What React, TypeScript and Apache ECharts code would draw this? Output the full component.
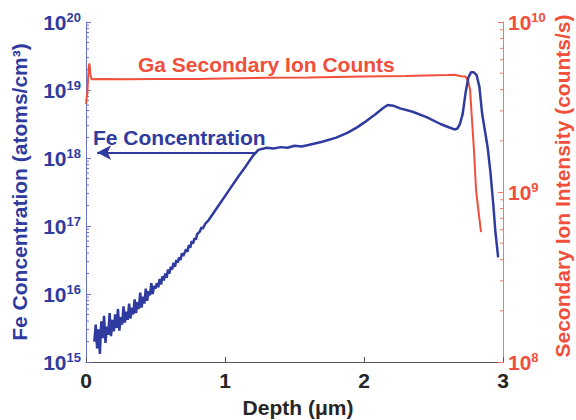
import React, { useEffect, useRef } from "react";
import * as echarts from "echarts";

// Fe concentration profile: depth (µm) and log10(atoms/cm^3)
const FE_DEPTH = [
  0.06, 0.07, 0.08, 0.09, 0.10, 0.11, 0.12, 0.13, 0.14, 0.15,
  0.16, 0.17, 0.18, 0.19, 0.20, 0.21, 0.22, 0.23, 0.24, 0.25,
  0.26, 0.27, 0.28, 0.29, 0.30, 0.31, 0.32, 0.33, 0.34, 0.35,
  0.36, 0.37, 0.38, 0.39, 0.40, 0.41, 0.42, 0.43, 0.44, 0.45,
  0.46, 0.47, 0.48, 0.49, 0.50, 0.51, 0.52, 0.53, 0.54, 0.55,
  0.56, 0.57, 0.58, 0.59, 0.60, 0.61, 0.62, 0.63, 0.64, 0.65,
  0.66, 0.67, 0.68, 0.69, 0.70, 0.72, 0.73, 0.74, 0.75, 0.76,
  0.77, 0.78, 0.79, 0.80, 0.82, 0.83, 0.84, 0.86, 0.88, 0.90,
  0.95, 1.00, 1.05, 1.10, 1.15, 1.20, 1.24, 1.30, 1.35, 1.40,
  1.45, 1.50, 1.55, 1.60, 1.70, 1.80, 1.88, 1.95, 2.00, 2.08,
  2.14, 2.17, 2.21, 2.26, 2.35, 2.45, 2.55, 2.60, 2.65, 2.67,
  2.69, 2.71, 2.73, 2.75, 2.77, 2.79, 2.81, 2.83, 2.85, 2.87,
  2.89, 2.91, 2.93, 2.945, 2.965,
];
const FE_LOG10 = [
  15.30, 15.55, 15.20, 15.48, 15.12, 15.60, 15.35, 15.68, 15.28, 15.52,
  15.40, 15.72, 15.38, 15.62, 15.45, 15.70, 15.50, 15.78, 15.46, 15.66,
  15.55, 15.82, 15.58, 15.74, 15.62, 15.86, 15.64, 15.80, 15.70, 15.92,
  15.72, 15.88, 15.78, 16.02, 15.80, 15.96, 15.86, 16.08, 15.90, 16.04,
  15.98, 16.16, 16.00, 16.12, 16.08, 16.16, 16.10, 16.22, 16.14, 16.26,
  16.20, 16.30, 16.24, 16.36, 16.30, 16.40, 16.36, 16.46, 16.40, 16.50,
  16.46, 16.54, 16.50, 16.60, 16.56, 16.66, 16.62, 16.72, 16.68, 16.78,
  16.74, 16.82, 16.80, 16.88, 16.92, 16.98, 16.96, 17.04, 17.08, 17.14,
  17.29, 17.44, 17.59, 17.74, 17.88, 18.03, 18.12, 18.15, 18.14, 18.16,
  18.15, 18.18, 18.17, 18.19, 18.24, 18.30, 18.37, 18.45, 18.52, 18.64,
  18.74, 18.78, 18.77, 18.73, 18.68, 18.60, 18.50, 18.46, 18.42, 18.43,
  18.50, 18.65, 18.95, 19.18, 19.26, 19.26, 19.22, 19.05, 18.65, 18.40,
  18.15, 17.78, 17.32, 16.92, 16.54,
];

// Ga secondary ion counts: depth (µm) and counts/s
const GA_DEPTH = [
  0, 0.01, 0.02, 0.025, 0.032, 0.04, 0.1, 0.3, 0.5, 0.8, 1.0, 1.3, 1.6,
  2.0, 2.3, 2.6, 2.65, 2.7, 2.73, 2.75, 2.763, 2.777, 2.791, 2.806, 2.827, 2.842,
];
const GA_COUNTS = [
  3.3e9, 3.9e9, 5.5e9, 5.7e9, 4.9e9, 4.6e9, 4.62e9, 4.6e9, 4.62e9, 4.62e9, 4.65e9, 4.7e9, 4.72e9,
  4.78e9, 4.82e9, 4.88e9, 4.9e9, 4.8e9, 4.78e9, 4.5e9, 4.0e9, 2.65e9, 1.77e9, 1.03e9, 7.3e8, 5.8e8,
];

// Axis ranges / ticks
const X_TICKS = [0, 1, 2, 3];
const LEFT_DECADES = [15, 16, 17, 18, 19];
const RIGHT_DECADES = [8, 9];
const MINOR_MULTS = [2, 3, 4, 5, 6, 7, 8, 9];

// Annotation arrows (data space)
const FE_ARROW = { from: [1.22, 1.2e18], to: [0.08, 1.2e18] };
const GA_ARROW = { from: [2.8, 1.72e9], to: [3.06, 1.72e9] };

const BLUE = "#2f3b9f";
const BLUE_AXIS = "#6a72d0";
const RED = "#f04f3b";
const RED_AXIS = "#f07a6a";
const DARK = "#262626";
const FONT = "'Liberation Sans', Arial, Helvetica, sans-serif";

export default function App() {
  const ref = useRef<HTMLDivElement>(null);

  useEffect(() => {
    if (!ref.current) return;
    const chart = echarts.init(ref.current, null, { renderer: "svg" });

    const feData = FE_DEPTH.map((d, i) => [d, Math.pow(10, FE_LOG10[i])]);
    const gaData = GA_DEPTH.map((d, i) => [d, GA_COUNTS[i]]);
    const leftMinor: number[][] = [];
    LEFT_DECADES.forEach((e) => MINOR_MULTS.forEach((m) => leftMinor.push([0, m * Math.pow(10, e)])));
    const rightMinor: number[][] = [];
    RIGHT_DECADES.forEach((e) => MINOR_MULTS.forEach((m) => rightMinor.push([3, m * Math.pow(10, e)])));

    const supFmt = (v: number) => `{b|10}{s|${Math.round(Math.log10(v))}}`;
    const rich = (color: string) => ({
      b: { fontSize: 21, fontWeight: "bold", color, fontFamily: FONT, lineHeight: 22 },
      s: { fontSize: 13, fontWeight: "bold", color, fontFamily: FONT, verticalAlign: "top", lineHeight: 13 },
    });

    const option: any = {
      animation: false,
      textStyle: { fontFamily: FONT },
      grid: { left: 86, right: 73, top: 22, bottom: 58 },
      xAxis: {
        type: "value",
        min: X_TICKS[0],
        max: X_TICKS[X_TICKS.length - 1],
        interval: 1,
        axisLine: { show: true, lineStyle: { color: "#555", width: 1.2 } },
        axisTick: { show: true, inside: true, length: 5, lineStyle: { color: "#555" } },
        axisLabel: { fontSize: 21, fontWeight: "bold", color: DARK, margin: 8, fontFamily: FONT },
        splitLine: { show: false },
      },
      yAxis: [
        {
          type: "log",
          logBase: 10,
          min: 1e15,
          max: 1e20,
          position: "left",
          axisLine: { show: true, lineStyle: { color: BLUE_AXIS, width: 1 } },
          axisTick: { show: true, inside: true, length: 5, lineStyle: { color: BLUE_AXIS } },
          axisLabel: { formatter: supFmt, rich: rich(BLUE), margin: 5 },
          splitLine: { show: false },
        },
        {
          type: "log",
          logBase: 10,
          min: 1e8,
          max: 1e10,
          position: "right",
          axisLine: { show: true, lineStyle: { color: RED_AXIS, width: 1 } },
          axisTick: { show: true, inside: true, length: 5, lineStyle: { color: RED_AXIS } },
          axisLabel: { formatter: supFmt, rich: rich(RED), margin: 5 },
          splitLine: { show: false },
        },
      ],
      series: [
        {
          type: "line",
          name: "Ga",
          yAxisIndex: 1,
          data: gaData,
          showSymbol: false,
          symbol: "none",
          clip: false,
          lineStyle: { color: RED, width: 2 },
          silent: true,
          markLine: {
            silent: true,
            symbol: ["none", "arrow"],
            symbolSize: [11, 14],
            label: { show: false },
            lineStyle: { color: RED, width: 2, type: "solid" },
            data: [[{ coord: GA_ARROW.from }, { coord: GA_ARROW.to }]],
          },
        },
        {
          type: "line",
          name: "Fe",
          yAxisIndex: 0,
          data: feData,
          showSymbol: false,
          symbol: "none",
          lineStyle: { color: BLUE, width: 2.5 },
          silent: true,
          markLine: {
            silent: true,
            symbol: ["none", "arrow"],
            symbolSize: [11, 14],
            label: { show: false },
            lineStyle: { color: BLUE, width: 2, type: "solid" },
            data: [[{ coord: FE_ARROW.from }, { coord: FE_ARROW.to }]],
          },
        },
        {
          type: "custom",
          yAxisIndex: 0,
          silent: true,
          clip: false,
          data: leftMinor,
          renderItem: (_p: any, api: any) => {
            const pt = api.coord([api.value(0), api.value(1)]);
            return {
              type: "line",
              shape: { x1: pt[0], y1: pt[1], x2: pt[0] + 3, y2: pt[1] },
              style: { stroke: BLUE_AXIS, lineWidth: 1 },
            };
          },
        },
        {
          type: "custom",
          yAxisIndex: 1,
          silent: true,
          clip: false,
          data: rightMinor,
          renderItem: (_p: any, api: any) => {
            const pt = api.coord([api.value(0), api.value(1)]);
            return {
              type: "line",
              shape: { x1: pt[0], y1: pt[1], x2: pt[0] - 3, y2: pt[1] },
              style: { stroke: RED_AXIS, lineWidth: 1 },
            };
          },
        },
      ],
      graphic: [
        {
          type: "text",
          left: 138,
          top: 54,
          style: { text: "Ga Secondary Ion Counts", fill: RED, fontSize: 21, fontWeight: "bold", fontFamily: FONT },
        },
        {
          type: "text",
          left: 93,
          top: 127,
          style: { text: "Fe Concentration", fill: BLUE, fontSize: 21, fontWeight: "bold", fontFamily: FONT },
        },
        {
          type: "text",
          x: 19,
          y: 192,
          rotation: Math.PI / 2,
          style: {
            text: "Fe Concentration (atoms/cm\u00B3)",
            fill: BLUE,
            fontSize: 21,
            fontWeight: "bold",
            fontFamily: FONT,
            align: "center",
            verticalAlign: "middle",
          },
        },
        {
          type: "text",
          x: 562,
          y: 186,
          rotation: Math.PI / 2,
          style: {
            text: "Secondary Ion Intensity (counts/s)",
            fill: RED,
            fontSize: 21,
            fontWeight: "bold",
            fontFamily: FONT,
            align: "center",
            verticalAlign: "middle",
          },
        },
        {
          type: "text",
          x: 298,
          y: 407,
          style: {
            text: "Depth (\u03BCm)",
            fill: DARK,
            fontSize: 21,
            fontWeight: "bold",
            fontFamily: FONT,
            align: "center",
            verticalAlign: "middle",
          },
        },
      ],
    };

    chart.setOption(option);
    return () => chart.dispose();
  }, []);

  return (
    <div
      ref={ref}
      style={{ position: "fixed", left: 0, top: 0, width: 576, height: 420, background: "#fff" }}
    />
  );
}
